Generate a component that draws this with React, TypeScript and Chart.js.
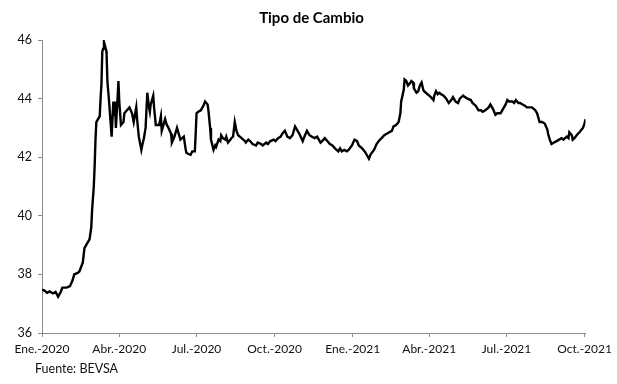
import React, { useEffect, useRef } from "react";
import { Chart, registerables } from "chart.js";

Chart.register(...registerables);

const TITLE = "Tipo de Cambio";
const SOURCE = "Fuente: BEVSA";

// Days elapsed since 1 Jan 2020
const days: number[] = [
  0, 3, 6, 9, 13, 16, 19, 22, 24, 29, 33, 36, 38, 42, 44, 48, 50, 54, 56, 58, 59, 61, 62, 63, 64, 66, 68,
  69, 70, 71, 72, 73, 76, 77, 79, 82, 84, 85, 86, 87, 89, 90, 91, 93, 96, 97, 100, 103, 106, 108, 111, 112,
  114, 117, 118, 120, 122, 124, 126, 127, 128, 131, 132, 134, 138, 140, 141, 145, 147, 149, 152, 153, 156,
  159, 161, 163, 167, 169, 170, 173, 175, 177, 180, 181, 182, 184, 187, 190, 192, 195, 196, 198, 199, 202,
  204, 205, 208, 210, 211, 213, 216, 217, 219, 222, 223, 225, 227, 229, 231, 233, 237, 239, 240, 243, 245,
  248, 252, 254, 258, 260, 264, 266, 269, 273, 275, 278, 281, 283, 286, 289, 292, 295, 298, 301, 303, 307,
  309, 312, 315, 318, 321, 324, 328, 330, 333, 336, 339, 342, 345, 349, 351, 353, 356, 359, 361, 365, 368,
  371, 373, 377, 380, 382, 385, 387, 391, 394, 398, 400, 403, 406, 409, 412, 414, 417, 420, 422, 423, 426,
  427, 429, 431, 434, 435, 437, 438, 441, 443, 445, 447, 449, 450, 452, 456, 458, 461, 462, 464, 466, 468,
  470, 473, 476, 479, 482, 484, 486, 487, 490, 492, 496, 498, 501, 505, 507, 511, 514, 517, 519, 522, 526,
  528, 531, 534, 536, 540, 542, 546, 548, 550, 554, 556, 558, 561, 563, 566, 569, 571, 575, 577, 581, 583,
  585, 586, 589, 592, 595, 596, 598, 600, 603, 606, 609, 612, 614, 618, 620, 621, 624, 625, 627, 631, 633,
  637, 639, 640,
];

const rates: number[] = [
  37.48, 37.45, 37.37, 37.42, 37.35, 37.4, 37.24, 37.4, 37.55, 37.55, 37.6, 37.8, 38.0, 38.05, 38.1, 38.4,
  38.9, 39.1, 39.2, 39.6, 40.2, 41.0, 41.7, 42.6, 43.2, 43.3, 43.4,
  44.0, 44.5, 45.6, 45.7, 45.93, 45.6, 44.6, 43.9, 42.7, 43.9, 43.4, 43.9, 43.0, 44.0, 44.6, 43.9, 43.1,
  43.2, 43.5, 43.6, 43.7, 43.5, 43.2, 43.7, 43.3,
  42.7, 42.25, 42.4, 42.65, 43.0, 44.2, 43.7, 43.55, 43.8, 44.1, 43.7, 43.1, 43.1, 43.4, 42.9, 43.3, 43.1,
  43.0, 42.8, 42.5, 42.7,
  43.0, 42.8, 42.6, 42.7, 42.3, 42.15, 42.1, 42.08, 42.2, 42.2, 42.8, 43.5, 43.55, 43.6, 43.75, 43.9, 43.8,
  43.6, 43.0, 42.6, 42.25,
  42.4, 42.35, 42.6, 42.55, 42.75, 42.65, 42.6, 42.7, 42.5, 42.6, 42.65, 42.7, 43.2, 42.9, 42.75, 42.7,
  42.6, 42.55, 42.5, 42.6, 42.55,
  42.45, 42.4, 42.5, 42.45, 42.4, 42.5, 42.45, 42.55, 42.6, 42.55, 42.65, 42.7, 42.8, 42.9, 42.7, 42.65,
  42.75, 43.05, 42.9, 42.8, 42.55,
  42.7, 42.9, 42.75, 42.7, 42.65, 42.7, 42.5, 42.55, 42.65, 42.55, 42.45, 42.4, 42.3, 42.2, 42.3, 42.2,
  42.25, 42.2, 42.25, 42.4, 42.6,
  42.55, 42.4, 42.3, 42.2, 42.1, 41.95, 42.1, 42.25, 42.45, 42.6, 42.65, 42.75, 42.8, 42.85, 42.9, 43.05,
  43.1, 43.2, 43.5, 43.9, 44.3,
  44.65, 44.6, 44.45, 44.55, 44.6, 44.55, 44.35, 44.2, 44.25, 44.45, 44.55, 44.3, 44.25, 44.2, 44.1, 44.05,
  43.95, 44.1, 44.25, 44.15, 44.2,
  44.15, 44.1, 44.0, 43.85, 43.95, 44.05, 43.95, 43.9, 43.85, 44.0, 44.1, 44.05, 44.0, 43.95, 43.85, 43.75,
  43.6, 43.6, 43.55, 43.6, 43.7,
  43.8, 43.65, 43.45, 43.5, 43.5, 43.6, 43.8, 43.95, 43.9, 43.9, 43.85, 43.95, 43.85, 43.85, 43.8, 43.75,
  43.7, 43.7, 43.7, 43.6, 43.5,
  43.3, 43.2, 43.2, 43.15, 42.95, 42.8, 42.6, 42.45, 42.5, 42.55, 42.6, 42.65, 42.6, 42.7, 42.65, 42.85,
  42.75, 42.6, 42.65, 42.8, 42.85,
  43.0, 43.15, 43.3,
];

// Quarterly tick positions (days since 1 Jan 2020) and their labels
const tickDays: number[] = [0, 91, 182, 274, 366, 456, 547, 639];
const tickLabels: string[] = [
  "Ene.-2020",
  "Abr.-2020",
  "Jul.-2020",
  "Oct.-2020",
  "Ene.-2021",
  "Abr.-2021",
  "Jul.-2021",
  "Oct.-2021",
];

const FONT = "Lato, 'Open Sans', sans-serif";

export default function App() {
  const canvasRef = useRef<HTMLCanvasElement | null>(null);

  useEffect(() => {
    document.body.style.margin = "0";
    const canvas = canvasRef.current;
    if (!canvas) return;
    const points = days.map((d, i) => ({ x: d, y: rates[i] }));
    const chart = new Chart(canvas, {
      type: "line",
      data: {
        datasets: [
          {
            data: points,
            borderColor: "#000000",
            borderWidth: 2.4,
            pointRadius: 0,
            tension: 0,
            fill: false,
          },
        ],
      },
      options: {
        animation: false,
        responsive: false,
        maintainAspectRatio: false,
        layout: { padding: { left: 0, right: 27, top: 40, bottom: 26 } },
        plugins: {
          legend: { display: false },
          tooltip: { enabled: false },
          title: { display: false },
        },
        scales: {
          x: {
            type: "linear",
            min: 0,
            max: 640,
            afterBuildTicks: (scale: any) => {
              scale.ticks = tickDays.map((v) => ({ value: v }));
            },
            afterFit: (scale: any) => {
              scale.height = 25;
            },
            ticks: {
              autoSkip: false,
              maxRotation: 0,
              minRotation: 0,
              padding: 5,
              color: "#111111",
              font: { family: FONT, size: 12 },
              callback: (value: any) => {
                const i = tickDays.indexOf(Number(value));
                return i >= 0 ? tickLabels[i] : "";
              },
            },
            grid: {
              display: true,
              drawOnChartArea: false,
              drawTicks: true,
              tickLength: 4,
              color: "#8c8c8c",
            },
            border: { color: "#8c8c8c", width: 1 },
          },
          y: {
            min: 36,
            max: 46,
            afterFit: (scale: any) => {
              scale.width = 42;
            },
            ticks: {
              stepSize: 2,
              padding: 6,
              color: "#111111",
              font: { family: FONT, size: 12.5 },
            },
            grid: {
              display: true,
              drawOnChartArea: false,
              drawTicks: true,
              tickLength: 4,
              color: "#8c8c8c",
            },
            border: { color: "#8c8c8c", width: 1 },
          },
        },
      },
    });
    return () => chart.destroy();
  }, []);

  return (
    <div style={{ position: "fixed", left: 0, top: 0, width: 617, height: 384, background: "#ffffff" }}>
      <canvas ref={canvasRef} width={617} height={384} style={{ display: "block" }} />
      <div
        style={{
          position: "absolute",
          left: 0,
          width: 617,
          top: 8,
          textAlign: "center",
          fontFamily: FONT,
          fontWeight: 700,
          fontSize: 15,
          color: "#000",
          paddingLeft: 6,
          boxSizing: "border-box",
        }}
      >
        {TITLE}
      </div>
      <div
        style={{
          position: "absolute",
          left: 35,
          top: 361,
          fontFamily: FONT,
          fontSize: 12.5,
          color: "#111",
        }}
      >
        {SOURCE}
      </div>
    </div>
  );
}
